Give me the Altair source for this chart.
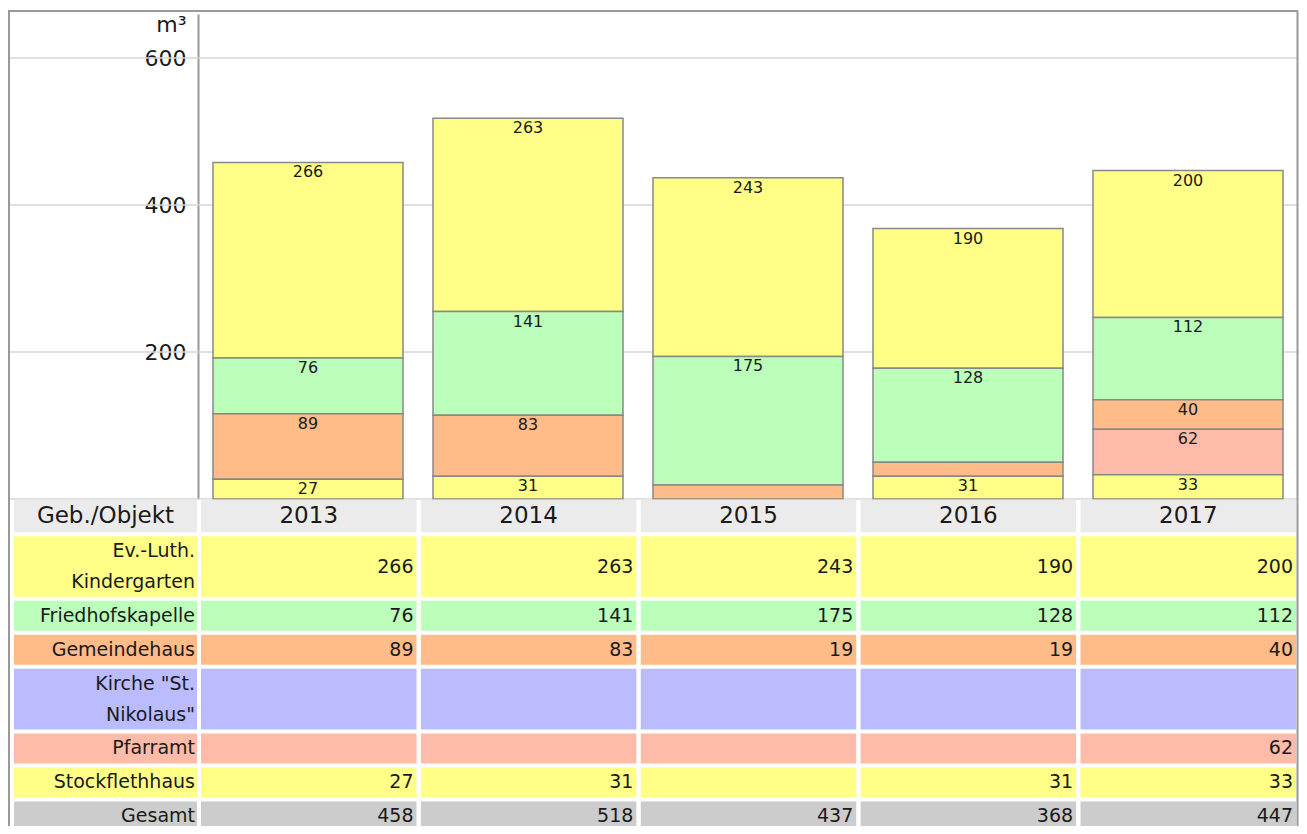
import altair as alt
import pandas as pd

# ---------------- data ----------------
years = ["2013", "2014", "2015", "2016", "2017"]
categories = [
    "Ev.-Luth.\nKindergarten",
    "Friedhofskapelle",
    "Gemeindehaus",
    "Kirche \"St.\nNikolaus\"",
    "Pfarramt",
    "Stockflethhaus",
]
kindergarten = [266, 263, 243, 190, 200]
friedhofskapelle = [76, 141, 175, 128, 112]
gemeindehaus = [89, 83, 19, 19, 40]
kirche = [None, None, None, None, None]
pfarramt = [None, None, None, None, 62]
stockflethhaus = [27, 31, None, 31, 33]
gesamt = [458, 518, 437, 368, 447]
series = [kindergarten, friedhofskapelle, gemeindehaus, kirche, pfarramt, stockflethhaus]

header_label = "Geb./Objekt"
total_label = "Gesamt"
y_ticks = [200, 400, 600]
grid_values = [0, 200, 400, 600]
unit_title = "m³"

# ---------------- styles ----------------
FONT = "DejaVu Sans"
TXT = "#1a1a1a"
row_keys = [header_label] + categories + [total_label]
row_colors = ["#ebebeb", "#ffff88", "#bbffbb", "#ffbb88", "#bbbbff", "#ffbbaa", "#ffff88", "#cccccc"]

W, H = 1290, 815
U = 34.0          # px per table line unit
GAP = 4           # px gap between table rows
TAB_TOP = 488.5
LINE_H = 31

# ---------------- tables ----------------
bar_rows = []
for i, (cat, vals) in enumerate(zip(categories, series)):
    for y, v in zip(years, vals):
        if v is not None:
            bar_rows.append({"year": y, "cat": cat, "value": v, "idx": i})
bar_df = pd.DataFrame(bar_rows)

n_lines = [1] + [len(c.split("\n")) for c in categories] + [1]
spans = [1.08] + [1 + 0.9 * (n - 1) for n in n_lines[1:-1]] + [1.0]
starts = [sum(spans[:k]) for k in range(len(spans))]
total_units = sum(spans)

cell_rows, lab_rows = [], []
for k, key in enumerate(row_keys):
    y0 = starts[k]
    y1 = starts[k] + spans[k]
    ym = (y0 + y1 - GAP / U) / 2
    yt = ym - (n_lines[k] - 1) * LINE_H / 2 / U
    kind = "header" if k == 0 else "body"
    lab_rows.append({"col": "label", "key": key, "label": key, "y0": y0, "y1": y1,
                     "ym": ym, "yt": yt, "kind": kind})
    for j, yr in enumerate(years):
        if k == 0:
            txt = yr
        elif key == total_label:
            txt = str(gesamt[j])
        else:
            v = series[k - 1][j]
            txt = "" if v is None else str(v)
        cell_rows.append({"year": yr, "key": key, "txt": txt, "y0": y0, "y1": y1, "ym": ym, "kind": kind})
cell_df = pd.DataFrame(cell_rows)
lab_df = pd.DataFrame(lab_rows)

# ---------------- scales ----------------
x_bar = alt.Scale(domain=years, range=[190, 1290], paddingInner=0.1364, paddingOuter=0.0682)
y_val = alt.Scale(domain=[0, 660], range=[488, 3], nice=False, zero=True)
x_tab = alt.Scale(domain=years, range=[193, 1288], paddingInner=0.02, paddingOuter=0)
x_lab = alt.Scale(domain=["label"], range=[6, 189], paddingInner=0, paddingOuter=0)
y_row = alt.Scale(domain=[0, total_units], range=[TAB_TOP, TAB_TOP + total_units * U], nice=False, zero=False)
color = alt.Scale(domain=row_keys, range=row_colors)

yax = alt.Axis(
    values=y_ticks, offset=-190, domainColor="#999999", domainWidth=2,
    ticks=False, tickSize=0, labelPadding=12, labelFont=FONT, labelFontSize=22,
    labelColor=TXT, grid=False, title=unit_title, titleAngle=0, titleAlign="right",
    titleBaseline="alphabetic", titleX=-12, titleY=20, titleFont=FONT,
    titleFontSize=22, titleFontWeight="normal", titleColor=TXT,
)

# ---------------- bar part ----------------
grid = alt.Chart(pd.DataFrame({"v": grid_values})).mark_rule(color="#d6d6d6", strokeWidth=1.5).encode(
    y=alt.Y("v:Q", scale=y_val, axis=yax, title=unit_title)
)
stacked = alt.Chart(bar_df).transform_stack(
    stack="value", groupby=["year"], sort=[alt.SortField("idx", order="descending")], as_=["v0", "v1"]
)
bars = stacked.mark_bar(stroke="#888888", strokeWidth=1.5).encode(
    x=alt.X("year:N", scale=x_bar, axis=None),
    y=alt.Y("v0:Q", scale=y_val, axis=yax, title=unit_title),
    y2="v1:Q",
    color=alt.Color("cat:N", scale=color, legend=None),
)
bar_text = stacked.transform_filter("datum.value >= 25").mark_text(
    baseline="top", dy=2, fontSize=16, font=FONT, color=TXT
).encode(
    x=alt.X("year:N", scale=x_bar, axis=None),
    y=alt.Y("v1:Q", scale=y_val, axis=yax, title=unit_title),
    text="value:Q",
)
chart_part = alt.layer(grid, bars, bar_text)

# ---------------- table: year columns ----------------
cells = alt.Chart(cell_df).mark_rect(y2Offset=-GAP).encode(
    x=alt.X("year:N", scale=x_tab, axis=None),
    y=alt.Y("y0:Q", scale=y_row, axis=None),
    y2="y1:Q",
    color=alt.Color("key:N", scale=color, legend=None),
)
cell_vals = alt.Chart(cell_df).transform_filter("datum.kind == 'body'").mark_text(
    align="right", baseline="middle", dx=-3, fontSize=19, font=FONT, color=TXT
).encode(
    x=alt.X("year:N", scale=x_tab, axis=None, bandPosition=1),
    y=alt.Y("ym:Q", scale=y_row, axis=None),
    text="txt:N",
)
cell_head = alt.Chart(cell_df).transform_filter("datum.kind == 'header'").mark_text(
    align="center", baseline="middle", fontSize=23, font=FONT, color=TXT
).encode(
    x=alt.X("year:N", scale=x_tab, axis=None),
    y=alt.Y("ym:Q", scale=y_row, axis=None),
    text="txt:N",
)
table_part = alt.layer(cells, cell_vals, cell_head)

# ---------------- table: label column ----------------
lab_cells = alt.Chart(lab_df).mark_rect(y2Offset=-GAP).encode(
    x=alt.X("col:N", scale=x_lab, axis=None),
    y=alt.Y("y0:Q", scale=y_row, axis=None),
    y2="y1:Q",
    color=alt.Color("key:N", scale=color, legend=None),
)
lab_text = alt.Chart(lab_df).transform_filter("datum.kind == 'body'").transform_calculate(
    lines="split(datum.label, '\\n')"
).mark_text(
    align="right", baseline="middle", dx=-2, fontSize=19, lineHeight=LINE_H, font=FONT, color=TXT
).encode(
    x=alt.X("col:N", scale=x_lab, axis=None, bandPosition=1),
    y=alt.Y("yt:Q", scale=y_row, axis=None),
    text="lines:N",
)
lab_head = alt.Chart(lab_df).transform_filter("datum.kind == 'header'").mark_text(
    align="center", baseline="middle", fontSize=23, font=FONT, color=TXT
).encode(
    x=alt.X("col:N", scale=x_lab, axis=None),
    y=alt.Y("ym:Q", scale=y_row, axis=None),
    text="label:N",
)
label_part = alt.layer(lab_cells, lab_text, lab_head)

# ---------------- frame ----------------
one = pd.DataFrame({"_": [0]})
frame_l = alt.Chart(one).mark_rule(color="#999999", strokeWidth=2).encode(
    x=alt.value(1), y=alt.value(0), y2=alt.value(H))
frame_t = alt.Chart(one).mark_rule(color="#999999", strokeWidth=2).encode(
    x=alt.value(0), x2=alt.value(W), y=alt.value(0))
frame_r = alt.Chart(one).mark_rule(color="#999999", strokeWidth=2).encode(
    x=alt.value(W - 0.5), y=alt.value(0), y2=alt.value(H))

chart = alt.layer(chart_part, table_part, label_part, frame_l, frame_t, frame_r).resolve_scale(
    x="independent", y="independent"
).properties(
    width=W, height=H, autosize="none",
    padding={"left": 0, "top": 3, "right": 1, "bottom": 0},
).configure_view(stroke=None)

chart.save("out.html", embed_options={"renderer": "svg", "actions": False})
